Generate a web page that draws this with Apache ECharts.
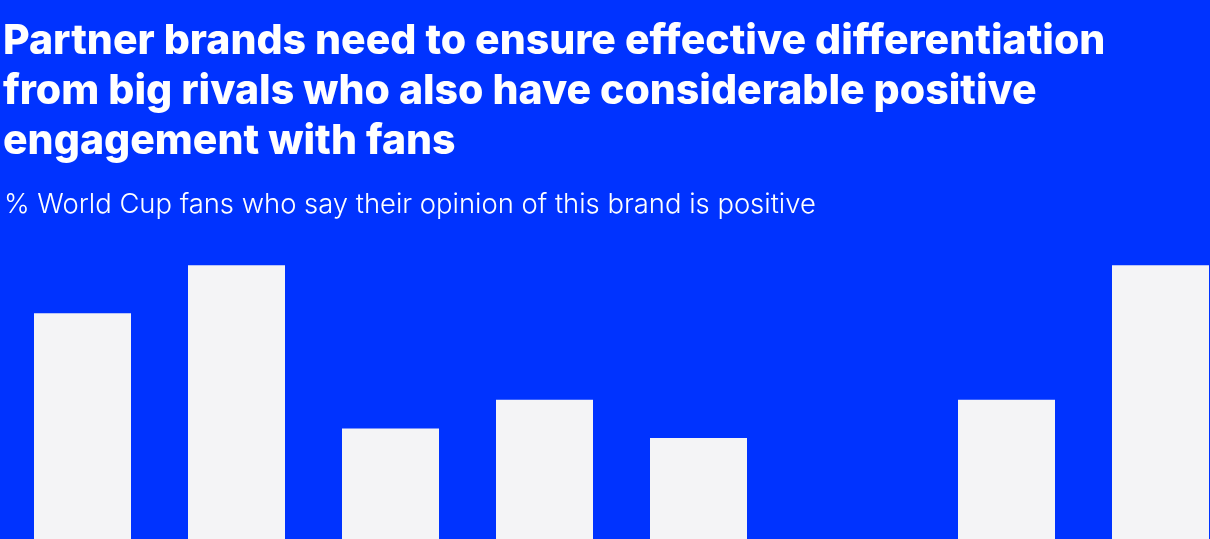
<!DOCTYPE html>
<html>
<head>
<meta charset="utf-8">
<style>
  html, body { margin: 0; padding: 0; background: #0033FF; width: 1210px; height: 539px; overflow: hidden; }
  /* the plot runs past the bottom and right edges of the page */
  #chart { width: 1240px; height: 700px; }
</style>
<script src="https://cdn.jsdelivr.net/npm/echarts@6/dist/echarts.min.js"></script>
</head>
<body>
<div id="chart"></div>
<script>
// Brands compared (axis labels sit below the visible area)
const brands = ['Brand 1', 'Brand 2', 'Brand 3', 'Brand 4', 'Brand 5', 'Brand 6', 'Brand 7', 'Brand 8'];
// % of World Cup fans with a positive opinion of each brand
const positiveShare = [37, 42, 25, 28, 24, 12, 28, 42];

const titleText = 'Partner brands need to ensure effective differentiation\nfrom big rivals who also have considerable positive\nengagement with fans';
const subtitleText = '% World Cup fans who say their opinion of this brand is positive';

const chart = echarts.init(document.getElementById('chart'), null, { renderer: 'canvas' });

chart.setOption({
  backgroundColor: '#0033FF',
  animation: false,
  title: [
    {
      text: titleText,
      left: -2,
      top: 12,
      textStyle: {
        color: '#FFFFFF',
        fontFamily: 'Inter',
        fontWeight: 800,
        fontSize: 41,
        lineHeight: 50
      }
    },
    {
      text: subtitleText,
      left: -1,
      top: 186,
      textStyle: {
        color: '#FFFFFF',
        fontFamily: 'Inter',
        fontWeight: 300,
        fontSize: 27.4,
        lineHeight: 28
      }
    }
  ],
  grid: {
    left: 5.5,
    width: 1232,
    top: 188.5,
    height: 480,
    containLabel: false
  },
  xAxis: {
    type: 'category',
    data: brands,
    axisLine: { show: false },
    axisTick: { show: false },
    axisLabel: { show: false },
    splitLine: { show: false }
  },
  yAxis: {
    type: 'value',
    min: 0,
    max: 50,
    show: false
  },
  series: [
    {
      type: 'bar',
      data: positiveShare,
      barWidth: 97,
      itemStyle: { color: '#F4F4F6' },
      silent: true
    }
  ]
});
</script>
</body>
</html>
